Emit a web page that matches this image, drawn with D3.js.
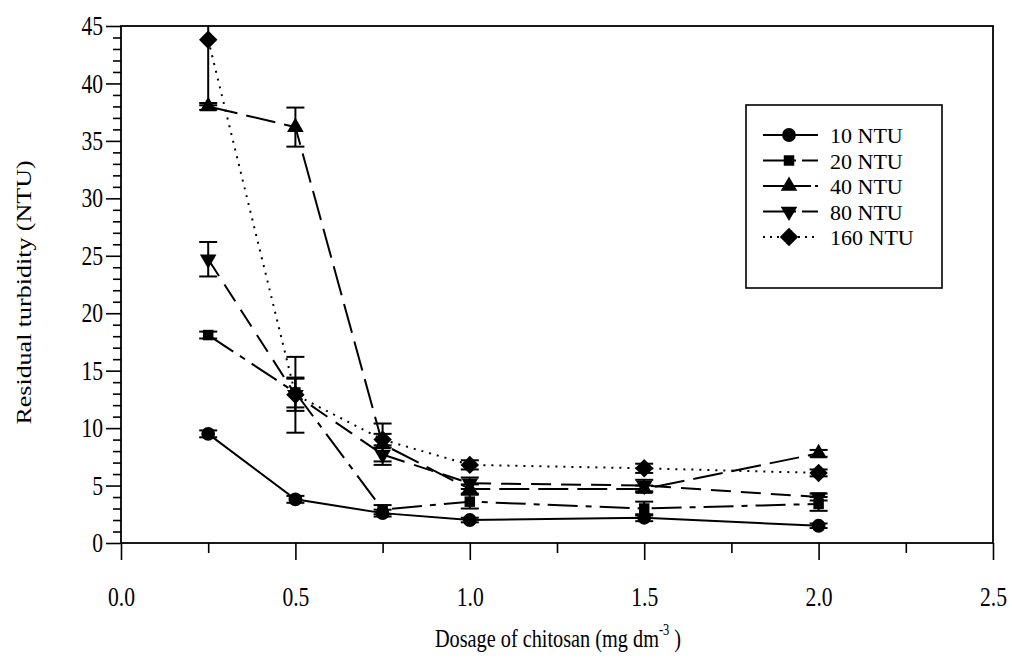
<!DOCTYPE html>
<html>
<head>
<meta charset="utf-8">
<script src="https://cdn.jsdelivr.net/npm/d3@7"></script>
<style>
  html, body { margin: 0; padding: 0; background: #fff; }
  svg text { font-family: "Liberation Serif", "Times New Roman", Times, serif !important; fill: #000; }
</style>
</head>
<body>
<svg id="chart" width="1012" height="665"></svg>
<script>
// Chitosan dosage (mg dm^-3)
const dosage = [0.25, 0.5, 0.75, 1.0, 1.5, 2.0];

// Residual turbidity (NTU) for each initial turbidity
const seriesNames = ["10 NTU", "20 NTU", "40 NTU", "80 NTU", "160 NTU"];
const ntu10  = [9.5, 3.8, 2.6, 2.0, 2.2, 1.5];
const ntu20  = [18.1, 13.1, 2.9, 3.6, 3.0, 3.4];
const ntu40  = [38.0, 36.2, 8.6, 4.7, 4.7, 7.8];
const ntu80  = [24.7, 12.9, 7.7, 5.2, 5.0, 4.0];
const ntu160 = [43.8, 12.9, 9.0, 6.8, 6.5, 6.1];

// Standard deviations
const err10  = [0.3, 0.3, 0.3, 0.2, 0.3, 0.2];
const err20  = [0.3, 1.3, 0.4, 0.6, 0.6, 0.6];
const err40  = [0.3, 1.7, 1.8, 0.4, 0.3, 0.3];
const err80  = [1.5, 1.4, 0.6, 0.5, 0.5, 0.3];
const err160 = [5.7, 3.3, 0.5, 0.4, 0.4, 0.3];

const xTicks = [0, 0.5, 1.0, 1.5, 2.0, 2.5];
const yTicks = [0, 5, 10, 15, 20, 25, 30, 35, 40, 45];

const values = [ntu10, ntu20, ntu40, ntu80, ntu160];
const errors = [err10, err20, err40, err80, err160];
const symbols = [d3.symbolCircle, d3.symbolSquare, d3.symbolTriangle, d3.symbolTriangle, d3.symbolSquare];
const symSizes = [150, 110, 120, 120, 170];
const symRotate = [0, 0, 0, 180, 45];
const dashes = [null, "30,8,6,8", "30,9", "20,10", "2,6"];

const svg = d3.select("#chart");
const plotL = 121, plotR = 993, plotT = 26, plotB = 543;

const x = d3.scaleLinear().domain([0, 2.5]).range([plotL, plotR]);
const y = d3.scaleLinear().domain([0, 45]).range([plotB, plotT]);

// narrow the lettering horizontally (condensed serif look)
function condense(sel, k) {
  sel.each(function () {
    const t = d3.select(this);
    const tx = +t.attr("x") || 0, ty = +t.attr("y") || 0;
    t.attr("x", 0).attr("y", 0).attr("transform", `translate(${tx},${ty}) scale(${k},1)`);
  });
}

// frame
svg.append("rect")
  .attr("x", plotL).attr("y", plotT)
  .attr("width", plotR - plotL).attr("height", plotB - plotT)
  .attr("fill", "none").attr("stroke", "#000").attr("stroke-width", 1.8);

// x axis: major every 0.5, minor every 0.25
const xAxis = d3.axisBottom(x).tickValues(xTicks).tickSize(17).tickPadding(27)
  .tickFormat(d3.format(".1f"));
const gx = svg.append("g").attr("transform", `translate(0,${plotB})`).call(xAxis);
gx.select(".domain").remove();
gx.selectAll(".tick line").attr("stroke-width", 1.6);
gx.selectAll(".tick text").attr("font-size", 27).call(condense, 0.8);
const gxMinor = svg.append("g").attr("transform", `translate(0,${plotB})`)
  .call(d3.axisBottom(x).tickValues(d3.range(0.25, 2.5, 0.5)).tickSize(10).tickFormat(""));
gxMinor.select(".domain").remove();
gxMinor.selectAll(".tick line").attr("stroke-width", 1.6);

// y axis: major every 5, minor every 1
const yAxis = d3.axisLeft(y).tickValues(yTicks).tickSize(15).tickPadding(3);
const gy = svg.append("g").attr("transform", `translate(${plotL},0)`).call(yAxis);
gy.select(".domain").remove();
gy.selectAll(".tick line").attr("stroke-width", 1.6);
gy.selectAll(".tick text").attr("font-size", 27).call(condense, 0.8);
const gyMinor = svg.append("g").attr("transform", `translate(${plotL},0)`)
  .call(d3.axisLeft(y).tickValues(d3.range(1, 45, 1).filter(v => v % 5 !== 0)).tickSize(8).tickFormat(""));
gyMinor.select(".domain").remove();
gyMinor.selectAll(".tick line").attr("stroke-width", 1.6);

// axis titles
svg.append("text")
  .attr("transform", `translate(31,${(plotT + plotB) / 2 + 8}) rotate(-90) scale(1,0.8)`)
  .attr("text-anchor", "middle").attr("font-size", 26)
  .text("Residual turbidity (NTU)");

const xt = svg.append("text")
  .attr("transform", "translate(558,647) scale(0.78,1)")
  .attr("text-anchor", "middle").attr("font-size", 26);
xt.append("tspan").text("Dosage of chitosan (mg dm");
xt.append("tspan").attr("font-size", 16).attr("dy", -12).text("-3");
xt.append("tspan").attr("dy", 12).text(" )");

svg.append("clipPath").attr("id", "clip")
  .append("rect").attr("x", plotL).attr("y", plotT).attr("width", plotR - plotL).attr("height", plotB - plotT);
const plot = svg.append("g").attr("clip-path", "url(#clip)");

const line = d3.line().x(d => x(d[0])).y(d => y(d[1]));

values.forEach((vals, i) => {
  const pts = dosage.map((d, j) => [d, vals[j]]);
  plot.append("path")
    .datum(pts)
    .attr("d", line)
    .attr("fill", "none")
    .attr("stroke", "#000")
    .attr("stroke-width", 2)
    .attr("stroke-dasharray", dashes[i]);
});

// error bars
values.forEach((vals, i) => {
  const g = plot.append("g");
  dosage.forEach((d, j) => {
    const e = errors[i][j];
    const cx = x(d), y1 = y(vals[j] + e), y2 = y(vals[j] - e);
    g.append("line").attr("x1", cx).attr("x2", cx).attr("y1", y1).attr("y2", y2)
      .attr("stroke", "#000").attr("stroke-width", 2);
    [y1, y2].forEach(yy => {
      g.append("line").attr("x1", cx - 9).attr("x2", cx + 9).attr("y1", yy).attr("y2", yy)
        .attr("stroke", "#000").attr("stroke-width", 2);
    });
  });
});

// markers
values.forEach((vals, i) => {
  const sym = d3.symbol().type(symbols[i]).size(symSizes[i]);
  plot.append("g").selectAll("path")
    .data(dosage.map((d, j) => [d, vals[j]]))
    .join("path")
    .attr("d", sym)
    .attr("transform", d => `translate(${x(d[0])},${y(d[1])}) rotate(${symRotate[i]})`)
    .attr("fill", "#000");
});

// legend
const lg = svg.append("g");
lg.append("rect").attr("x", 746).attr("y", 105).attr("width", 196).attr("height", 183)
  .attr("fill", "#fff").attr("stroke", "#000").attr("stroke-width", 1.6);
seriesNames.forEach((name, i) => {
  const ry = 135 + i * 25.5;
  lg.append("line").attr("x1", 763).attr("x2", 818).attr("y1", ry).attr("y2", ry)
    .attr("stroke", "#000").attr("stroke-width", 2)
    .attr("stroke-dasharray", i === 0 ? null : (i === 4 ? "2,5" : (i === 2 ? "22,4" : "22,6,5,6")));
  lg.append("path")
    .attr("d", d3.symbol().type(symbols[i]).size(symSizes[i])())
    .attr("transform", `translate(789,${ry}) rotate(${symRotate[i]})`)
    .attr("fill", "#000");
  lg.append("text")
    .attr("x", 830).attr("y", ry + 8)
    .attr("font-size", 22).text(name);
});
</script>
</body>
</html>
